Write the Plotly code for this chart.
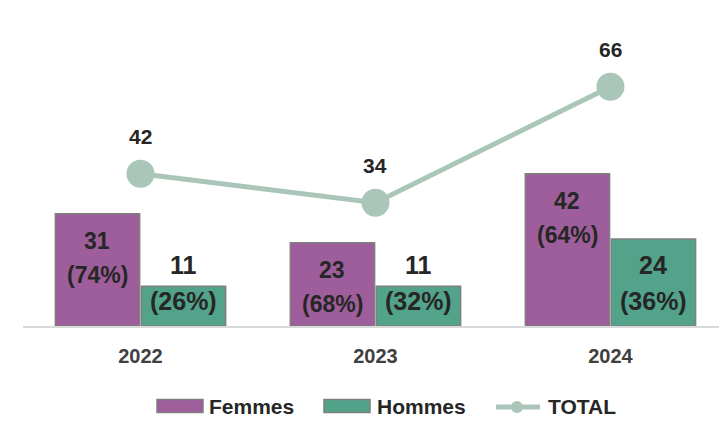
import plotly.graph_objects as go

# Effectifs par année
years = ["2022", "2023", "2024"]
femmes = [31, 23, 42]
hommes = [11, 11, 24]
total = [42, 34, 66]
series_names = ["Femmes", "Hommes", "TOTAL"]

W, H = 719, 422
C_F = "#9E5E9B"
C_H = "#52A38A"
C_T = "#AAC6B8"
EDGE = "#7F7F7F"
TXT = "#262626"
FONT = "Liberation Sans, Arial, sans-serif"

pct_f = [round(100 * f / (f + h)) for f, h in zip(femmes, hommes)]
pct_h = [round(100 * h / (f + h)) for f, h in zip(femmes, hommes)]

fig = go.Figure()
fig.add_bar(x=years, y=femmes, name=series_names[0], marker=dict(color=C_F, line=dict(color=EDGE, width=1.5)))
fig.add_bar(x=years, y=hommes, name=series_names[1], marker=dict(color=C_H, line=dict(color=EDGE, width=1.5)))
fig.add_scatter(x=years, y=total, name=series_names[2], mode="lines+markers",
                line=dict(color=C_T, width=5), marker=dict(color=C_T, size=28))

ann = []
# Category positions on the x axis are addressed by index
for i, (v, p) in enumerate(zip(femmes, pct_f)):
    # Femmes: value + share inside the top of the bar
    ann.append(dict(x=i, y=v, xshift=-43, yshift=-27, text=str(v), showarrow=False,
                    yanchor="middle", font=dict(family=FONT, size=23, color=TXT, weight="bold")))
    ann.append(dict(x=i, y=v, xshift=-43, yshift=-61, text=f"({p}%)", showarrow=False,
                    yanchor="middle", font=dict(family=FONT, size=23, color=TXT, weight="bold")))
for i, (v, p) in enumerate(zip(hommes, pct_h)):
    # Hommes: labels anchored from the base
    ann.append(dict(x=i, y=0, xshift=43, yshift=61, text=str(v), showarrow=False,
                    yanchor="middle", font=dict(family=FONT, size=25, color=TXT, weight="bold")))
    ann.append(dict(x=i, y=0, xshift=43, yshift=25, text=f"({p}%)", showarrow=False,
                    yanchor="middle", font=dict(family=FONT, size=25, color=TXT, weight="bold")))
for i, v in enumerate(total):
    # Total labels above the markers
    ann.append(dict(x=i, y=v, yshift=37, text=str(v), showarrow=False,
                    yanchor="middle", font=dict(family=FONT, size=21, color=TXT, weight="bold")))

# Legend drawn in figure pixels (margins are zero, so paper == figure)
def px(x):
    return x / W

def py(y):
    return (H - y) / H

shapes = []
leg_y = 406
for x0, x1, col in [(157, 203, C_F), (324, 370, C_H)]:
    shapes.append(dict(type="rect", xref="paper", yref="paper", x0=px(x0), x1=px(x1),
                       y0=py(leg_y + 6.5), y1=py(leg_y - 6.5), fillcolor=col,
                       line=dict(color=EDGE, width=1.5)))
shapes.append(dict(type="line", xref="paper", yref="paper", x0=px(496), x1=px(540),
                   y0=py(leg_y + 1), y1=py(leg_y + 1), line=dict(color=C_T, width=5)))
shapes.append(dict(type="circle", xref="paper", yref="paper", x0=px(511), x1=px(523),
                   y0=py(leg_y + 7), y1=py(leg_y - 5), fillcolor=C_T, line=dict(color=C_T, width=0)))
for x0, name in zip([207, 375, 546], series_names):
    ann.append(dict(xref="paper", yref="paper", x=px(x0), y=py(leg_y), text=name, showarrow=False,
                    xanchor="left", yanchor="middle",
                    font=dict(family=FONT, size=21, color=TXT, weight="bold")))

fig.update_layout(
    width=W, height=H,
    margin=dict(l=0, r=0, t=0, b=0, autoexpand=False),
    paper_bgcolor="white", plot_bgcolor="white",
    barmode="group", bargap=0.268, bargroupgap=0.02,
    showlegend=False,
    xaxis=dict(domain=[23 / W, 1], type="category", range=[-0.5, 2.462],
               showline=True, linecolor="#D9D9D9", linewidth=2, ticks="",
               showgrid=False, zeroline=False, ticklabelstandoff=11,
               tickfont=dict(family=FONT, size=20, color="#404040", weight="bold")),
    yaxis=dict(domain=[(H - 326) / H, (H - 36) / H], range=[0, 80], visible=False,
               showgrid=False, zeroline=False),
    annotations=ann, shapes=shapes,
)

fig.write_html("out.html")
